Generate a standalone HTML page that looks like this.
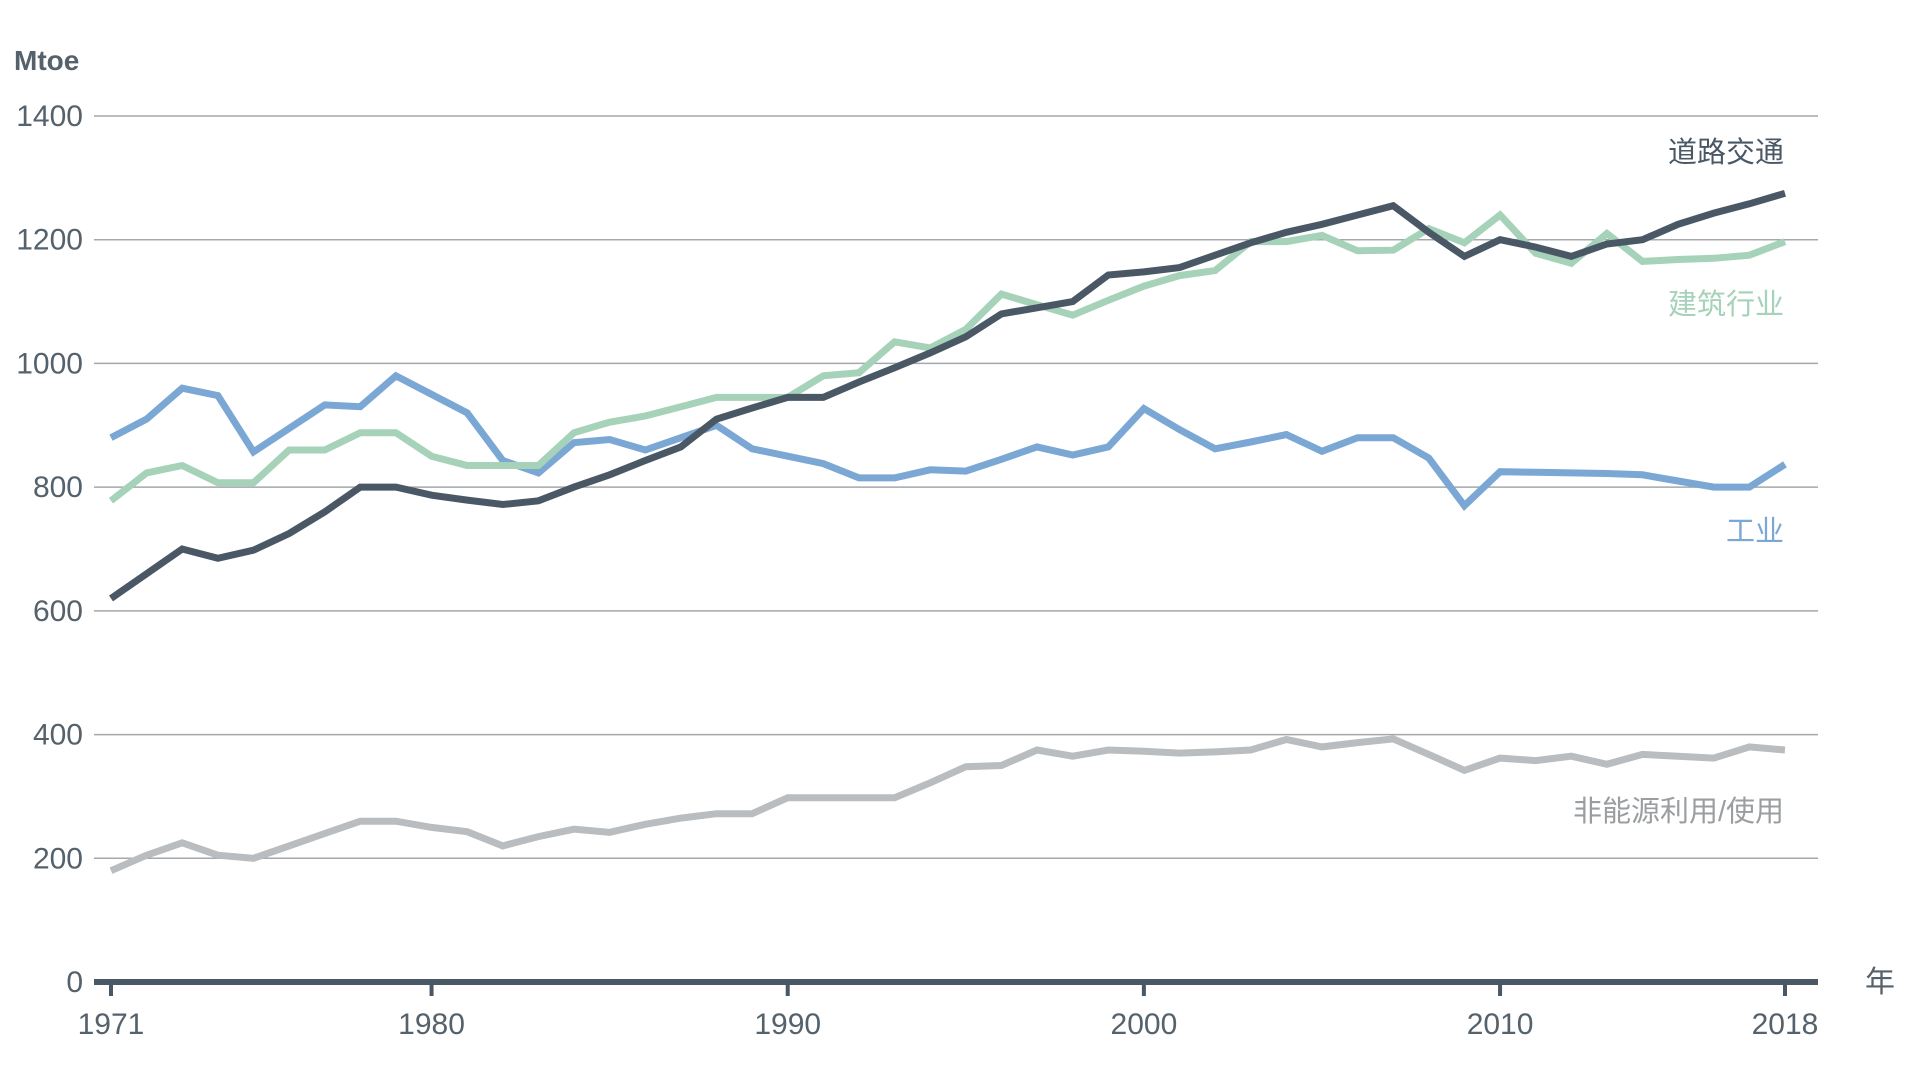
<!DOCTYPE html>
<html><head><meta charset="utf-8"><style>
html,body{margin:0;padding:0;background:#fff;}
svg{display:block;font-family:"Liberation Sans","Noto Sans CJK SC",sans-serif;}
</style></head><body>
<svg id="chart" width="1920" height="1080" viewBox="0 0 1920 1080">
<g id="grid"></g>
<g id="ylab"></g>
<g id="xaxis"></g>
<g id="lines"></g>
<text x="14" y="70" font-size="28" font-weight="bold" fill="#55616b">Mtoe</text>
<text x="1880" y="992" font-size="30" fill="#55616b" text-anchor="middle">年</text>
<text x="1784" y="162" font-size="29" fill="#4a5866" text-anchor="end">道路交通</text>
<text x="1784" y="314" font-size="29" fill="#a5d2b8" text-anchor="end">建筑行业</text>
<text x="1784" y="541" font-size="29" fill="#7ba7d4" text-anchor="end">工业</text>
<text x="1784" y="821" font-size="29" fill="#9a9ea1" text-anchor="end">非能源利用/使用</text>
</svg>
<script>
const years = Array.from({length:48},(_,i)=>1971+i);
const yTicks = [0,200,400,600,800,1000,1200,1400];
const xTicks = [1971,1980,1990,2000,2010,2018];
const road = [620,660,700,685,698,725,760,800,800,787,779,772,778,800,820,843,865,910,928,945,945,970,993,1017,1043,1080,1090,1100,1143,1148,1155,1175,1195,1212,1225,1240,1255,1212,1173,1200,1188,1173,1193,1200,1225,1243,1258,1275];
const buildings = [778,823,835,807,807,860,860,888,888,850,835,835,835,888,905,915,930,945,945,945,980,985,1035,1025,1055,1112,1095,1078,1102,1125,1142,1150,1197,1197,1207,1182,1183,1218,1195,1240,1178,1162,1210,1165,1168,1170,1175,1197];
const industry = [880,910,960,948,857,895,933,930,980,950,920,843,823,872,877,860,880,900,862,850,838,815,815,828,826,845,865,852,865,927,893,862,873,885,858,880,880,847,770,825,824,823,822,820,810,800,800,837];
const nonEnergy = [180,205,225,205,200,220,240,260,260,250,243,220,235,247,242,255,265,272,272,298,298,298,298,322,348,350,375,365,375,373,370,372,375,392,380,387,393,368,342,362,358,365,352,368,365,362,380,375];

const NS='http://www.w3.org/2000/svg';
const X0=111,X1=1785,Y0=982,Y1=116;
function xs(y){return X0+(y-1971)/(2018-1971)*(X1-X0);}
function ys(v){return Y0-v/1400*(Y0-Y1);}
function mk(t,a,p){const e=document.createElementNS(NS,t);for(const k in a)e.setAttribute(k,a[k]);p.appendChild(e);return e;}
const grid=document.getElementById('grid'),ylab=document.getElementById('ylab'),xa=document.getElementById('xaxis'),lines=document.getElementById('lines');
yTicks.forEach(v=>{
  if(v>0){const l=mk('line',{x1:94,x2:1818,y1:ys(v),y2:ys(v),stroke:'#a4a8ab','stroke-width':1.5},grid);
  
  }
  const t=mk('text',{x:83,y:ys(v)+10,'font-size':30,fill:'#55616b','text-anchor':'end'},ylab);
  t.textContent=v;
  
  
});
const ax=mk('line',{x1:94,x2:1818,y1:Y0,y2:Y0,stroke:'#4a5866','stroke-width':6},xa);


xTicks.forEach(y=>{
  const tk=mk('line',{x1:xs(y),x2:xs(y),y1:Y0,y2:Y0+14,stroke:'#4a5866','stroke-width':4},xa);
  
  
  const t=mk('text',{x:xs(y),y:Y0+52,'font-size':30,fill:'#55616b','text-anchor':'middle'},xa);
  t.textContent=y;
  
  
});
function drawLine(arr,color,name){
  const d=arr.map((v,i)=>(i?'L':'M')+xs(years[i]).toFixed(1)+' '+ys(v).toFixed(1)).join(' ');
  const p=mk('path',{d:d,fill:'none',stroke:color,'stroke-width':7,'stroke-linejoin':'miter'},lines);
  
  
}
drawLine(nonEnergy,'#b9bdc0','line-non-energy-use');
drawLine(industry,'#7ba7d4','line-industry');
drawLine(buildings,'#a5d2b8','line-buildings');
drawLine(road,'#4a5866','line-road-transport');
</script>
</body></html>
